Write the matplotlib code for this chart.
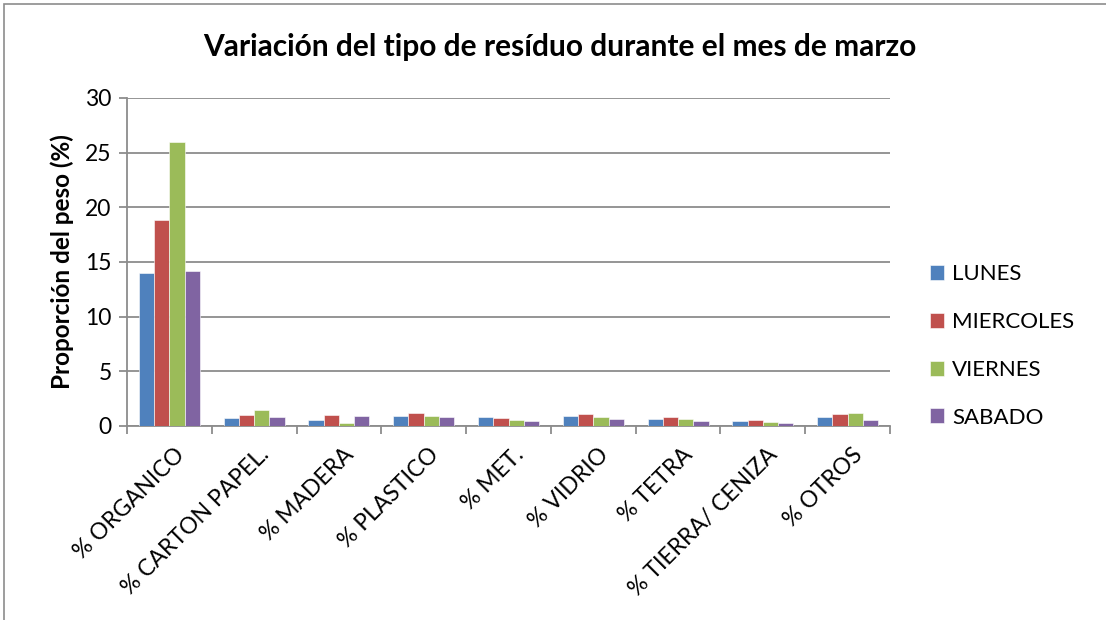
import matplotlib
matplotlib.use("Agg")
import matplotlib.pyplot as plt
import numpy as np
from matplotlib.patches import Rectangle

categories = ["% ORGANICO", "% CARTON PAPEL.", "% MADERA", "% PLASTICO", "% MET.",
              "% VIDRIO", "% TETRA", "% TIERRA/ CENIZA", "% OTROS"]
lunes = [14.0, 0.73, 0.52, 0.91, 0.82, 0.91, 0.64, 0.43, 0.82]
miercoles = [18.8, 1.04, 1.04, 1.19, 0.76, 1.10, 0.85, 0.52, 1.10]
viernes = [26.0, 1.43, 0.27, 0.88, 0.55, 0.82, 0.64, 0.37, 1.22]
sabado = [14.2, 0.82, 0.88, 0.85, 0.43, 0.64, 0.49, 0.27, 0.55]
series_names = ["LUNES", "MIERCOLES", "VIERNES", "SABADO"]
yticks = [0, 5, 10, 15, 20, 25, 30]

colors = ["#4F81BD", "#C0504D", "#9BBB59", "#8064A2"]
font = ["Lato", "DejaVu Sans"]
plt.rcParams['font.family'] = font

fig = plt.figure(figsize=(11.06, 6.2), dpi=100)
ax = fig.add_axes([127/1106, 1 - 426/620, (890-127)/1106, (426-98)/620])

x = np.arange(len(categories))
w = 0.18
for i, (vals, name, c) in enumerate(zip([lunes, miercoles, viernes, sabado], series_names, colors)):
    ax.bar(x + (i - 1.5) * w, vals, width=w, color=c, label=name, zorder=3,
           edgecolor='white', linewidth=0.4)

ax.set_xlim(-0.5, len(categories) - 0.5)
ax.set_ylim(0, 30)
ax.set_yticks(yticks)
ax.set_yticklabels([str(t) for t in yticks], fontsize=16.5)
ax.yaxis.grid(True, color="#8c8c8c", linewidth=1.3, zorder=0)
ax.set_xticks(x + 0.05)
ax.set_xticklabels(categories, rotation=45, ha='right', va='top',
                   rotation_mode='anchor', fontsize=16.5)
ax.tick_params(axis='x', which='major', length=0, pad=13)
ax.set_xticks(np.arange(-0.5, len(categories), 1), minor=True)
ax.tick_params(axis='x', which='minor', length=6, color="#8c8c8c", width=1.3)
ax.tick_params(axis='y', length=6, color="#8c8c8c", width=1.3, pad=5)
for s in ['top', 'right']:
    ax.spines[s].set_visible(False)
for s in ['left', 'bottom']:
    ax.spines[s].set_color("#8c8c8c")
    ax.spines[s].set_linewidth(1.3)

ax.set_ylabel("Proporción del peso (%)", fontsize=17.5, fontweight='bold', labelpad=8)
fig.text(0.506, 1 - 47/620, "Variación del tipo de resíduo durante el mes de marzo",
         ha='center', va='center', fontsize=21.5, fontweight='bold')

leg = fig.legend(loc='center left', bbox_to_anchor=(930/1106, 1 - 346/620), frameon=False,
                 fontsize=16, handlelength=0.65, handleheight=0.65, labelspacing=1.25,
                 handletextpad=0.35, borderaxespad=0, borderpad=0)

fig.patches.append(Rectangle((4/1106, -0.1), 1.2, 1 - 4/620 + 0.1, transform=fig.transFigure,
                             fill=False, edgecolor="#8c8c8c", linewidth=1.2))

fig.savefig("out.png", dpi=100)
